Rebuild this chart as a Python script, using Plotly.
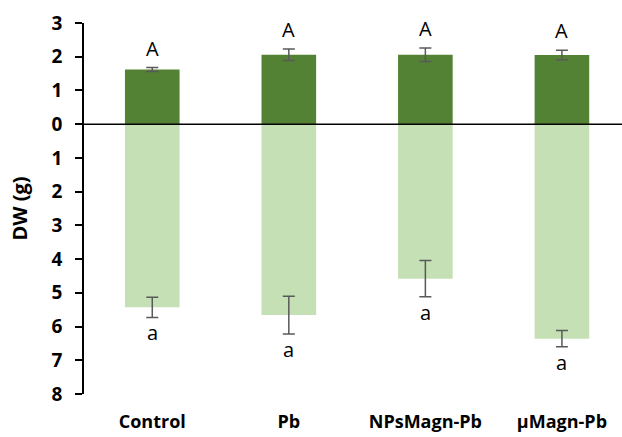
import plotly.graph_objects as go

categories = ["Control", "Pb", "NPsMagn-Pb", "µMagn-Pb"]
shoot_dw = [1.62, 2.06, 2.06, 2.05]
shoot_err = [0.06, 0.17, 0.20, 0.14]
root_dw = [5.43, 5.66, 4.58, 6.36]
root_err = [0.30, 0.56, 0.54, 0.24]
shoot_letters = ["A", "A", "A", "A"]
root_letters = ["a", "a", "a", "a"]
tick_vals = [3, 2, 1, 0, -1, -2, -3, -4, -5, -6, -7, -8]
tick_text = ["3", "2", "1", "0", "1", "2", "3", "4", "5", "6", "7", "8"]

FONT = "Open Sans"
err_color = "#595959"

fig = go.Figure()
fig.add_trace(go.Bar(
    x=categories, y=shoot_dw, marker_color="#548235", width=0.4,
    marker_line_width=0,
    error_y=dict(type="data", array=shoot_err, color=err_color, thickness=1.5, width=6),
))
fig.add_trace(go.Bar(
    x=categories, y=[-v for v in root_dw], marker_color="#C5E0B4", width=0.4,
    marker_line_width=0,
    error_y=dict(type="data", array=root_err, color=err_color, thickness=1.5, width=6),
))

for c, v, e, t in zip(categories, shoot_dw, shoot_err, shoot_letters):
    fig.add_annotation(x=c, y=v + e, text=t, showarrow=False, yanchor="bottom",
                       yshift=4, font=dict(family=FONT, size=20, color="black"))
for c, v, e, t in zip(categories, root_dw, root_err, root_letters):
    fig.add_annotation(x=c, y=-(v + e), text=t, showarrow=False, yanchor="top",
                       yshift=0, font=dict(family=FONT, size=20, color="black"))

fig.add_shape(type="line", xref="paper", yref="y", x0=0, x1=1, y0=0, y1=0,
              line=dict(color="black", width=1.5), layer="above")

fig.update_layout(
    width=622, height=437,
    margin=dict(l=84, r=0, t=23, b=43),
    plot_bgcolor="white", paper_bgcolor="white",
    barmode="overlay", showlegend=False,
    font=dict(family=FONT, color="black"),
)
fig.update_xaxes(
    range=[-0.5, 3.44], showline=False, ticks="", showgrid=False, automargin=False,
    ticklabelstandoff=15,
    tickfont=dict(family=FONT, size=18, color="black", weight="bold"),
)
fig.update_yaxes(
    range=[-8, 3], tickvals=tick_vals, ticktext=tick_text, automargin=False,
    showline=True, linecolor="black", linewidth=1.5,
    ticks="outside", ticklen=7, tickwidth=1.5, tickcolor="black",
    showgrid=False, zeroline=False, ticklabelstandoff=9,
    tickfont=dict(family=FONT, size=19, color="black", weight="bold"),
    title=dict(text="DW (g)", font=dict(family=FONT, size=20, color="black", weight="bold"), standoff=19),
)

fig.write_html("out.html", config={"displayModeBar": False},
               post_script="document.body.style.margin='0';")
